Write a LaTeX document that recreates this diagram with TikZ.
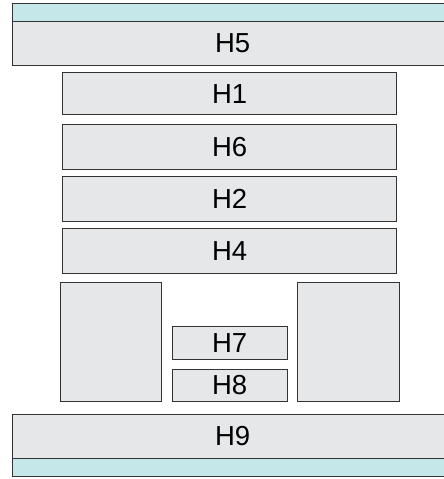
\documentclass[tikz,border=0pt]{standalone}
\usepackage{fontspec}
\setmainfont{Liberation Sans}
\usepackage{tikz}

\definecolor{boxgray}{HTML}{E6E7E8}
\definecolor{bandcyan}{HTML}{C6E7E9}
\tikzset{
  box/.style={draw=black!80, line width=0.9pt, fill=boxgray, inner sep=0pt, outer sep=0pt,
    font=\fontsize{27.5}{30}\selectfont},
  band/.style={box, fill=bandcyan}
}

\begin{document}
\begin{tikzpicture}[x=1pt, y=-1pt]
        \useasboundingbox (0,0) rectangle (444,479);
        \clip (0,0) rectangle (444,479);
        % top frame
        \node[band, minimum width=440pt, minimum height=17.5pt] (topband) at (232.7,12.2) {};
        \node[box, minimum width=440pt, minimum height=44pt] (h5) at (232.7,43) {H5};
        % stacked rows
        \node[box, minimum width=334pt, minimum height=42pt] (h1) at (229.7,93.6) {H1};
        \node[box, minimum width=334pt, minimum height=45pt] (h6) at (229.7,146.8) {H6};
        \node[box, minimum width=334pt, minimum height=45pt] (h2) at (229.7,198.8) {H2};
        \node[box, minimum width=334pt, minimum height=45pt] (h4) at (229.7,250.8) {H4};
        % lower part
        \node[box, minimum width=101.7pt, minimum height=119.4pt] (left) at (110.8,342) {};
        \node[box, minimum width=114.7pt, minimum height=32.3pt] (h7) at (229.7,342.9) {H7};
        \node[box, minimum width=114.7pt, minimum height=32.4pt] (h8) at (229.7,385.5) {H8};
        \node[box, minimum width=102pt, minimum height=119.4pt] (right) at (348.3,342) {};
        % bottom frame
        \node[box, minimum width=440pt, minimum height=44.3pt] (h9) at (232.7,436.2) {H9};
        \node[band, minimum width=440pt, minimum height=18.4pt] (botband) at (232.7,467.5) {};
\end{tikzpicture}
\end{document}
